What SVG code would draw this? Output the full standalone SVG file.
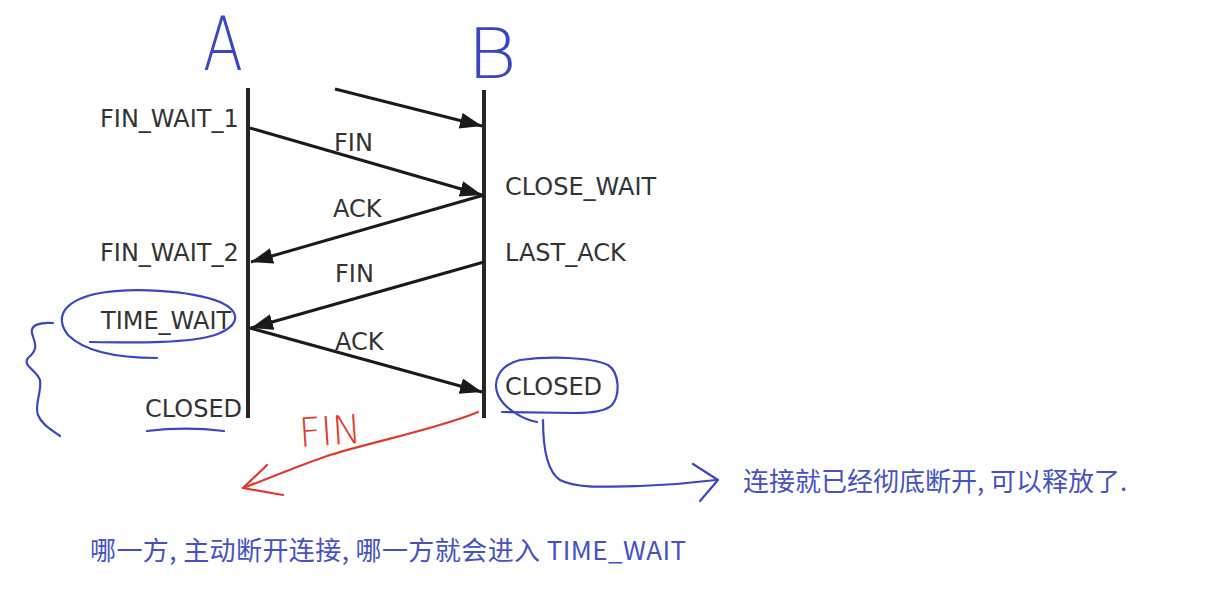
<svg xmlns="http://www.w3.org/2000/svg" width="1219" height="594" viewBox="0 0 1219 594">
<style>
.st{font-family:"DejaVu Sans","Liberation Sans",sans-serif;font-size:24px;fill:#333;}
.life{stroke:#262626;stroke-width:4;fill:none;}
.msg{stroke:#1a1a1a;stroke-width:3;fill:none;marker-end:url(#ah);}
.pen{stroke:#3946c6;stroke-width:2.2;fill:none;stroke-linecap:round;stroke-linejoin:round;}
.red{stroke:#e2392c;stroke-width:2.2;fill:none;stroke-linecap:round;stroke-linejoin:round;}
.hand{font-family:"DejaVu Sans","Liberation Sans",sans-serif;font-weight:200;}
.note{font-family:"Noto Sans CJK SC","Noto Sans",sans-serif;font-size:26px;fill:#4652c4;}
</style>
<defs>
<marker id="ah" markerUnits="userSpaceOnUse" markerWidth="24" markerHeight="18" refX="22" refY="8" orient="auto">
<path d="M0,0 L22,8 L0,16 z" fill="#1a1a1a"/>
</marker>
</defs>
<rect width="1219" height="594" fill="#fff"/>

<g id="A">
<text class="hand" x="203" y="70" font-size="75" fill="#3946c6" textLength="40" lengthAdjust="spacingAndGlyphs">A</text>
<line class="life" x1="248" y1="88" x2="248" y2="418"/>
<text class="st" x="100" y="127">FIN_WAIT_1</text>
<text class="st" x="100" y="261">FIN_WAIT_2</text>
<text class="st" x="101" y="329">TIME_WAIT</text>
<text class="st" x="145" y="417">CLOSED</text>
</g>

<g id="B">
<text class="hand" x="467" y="78" font-size="70" fill="#3946c6" textLength="50" lengthAdjust="spacingAndGlyphs">B</text>
<line class="life" x1="484" y1="90" x2="484" y2="418"/>
<text class="st" x="505" y="195">CLOSE_WAIT</text>
<text class="st" x="505" y="261">LAST_ACK</text>
<text class="st" x="505" y="395">CLOSED</text>
</g>

<g id="connectors">
<line class="msg" x1="335" y1="89" x2="482" y2="126"/>
<line class="msg" x1="250" y1="128" x2="482" y2="195"/>
<line class="msg" x1="484" y1="195" x2="251" y2="262"/>
<line class="msg" x1="484" y1="262" x2="251" y2="328"/>
<line class="msg" x1="250" y1="328" x2="482" y2="392"/>
<text class="st" x="334" y="151">FIN</text>
<text class="st" x="333" y="217">ACK</text>
<text class="st" x="335" y="282">FIN</text>
<text class="st" x="335" y="350">ACK</text>
</g>

<g id="annotations">
<path class="pen" d="M157,358 C120,358 85,352 68,335 C55,318 62,302 95,294 C130,287 190,290 220,302 C240,311 242,325 215,335 C190,343 140,343 90,342"/>
<path class="pen" d="M53,323 C40,322 30,325 32,333 C34,342 40,348 28,358 C22,365 36,370 40,380 C42,392 34,405 38,415 C42,425 52,430 60,436"/>
<path class="pen" d="M147,431 C170,428 200,428 224,431"/>
<path class="pen" d="M537,422 C525,420 505,410 498,395 C492,380 500,365 520,360 C550,356 590,357 608,365 C620,373 620,395 612,405 C605,412 590,413 575,413 L502,412"/>
<path class="pen" d="M543,420 C543,440 545,470 560,480 C575,488 600,487 640,486 C670,485 700,482 716,480"/>
<path class="pen" d="M693,464 L718,480 L700,501"/>
<path class="red" d="M478,412 C440,428 380,440 330,455 C300,465 270,478 243,488"/>
<path class="red" d="M267,465 L243,488 L283,495"/>
<text class="hand" x="300" y="447" font-size="40" fill="#e2392c" textLength="62" lengthAdjust="spacingAndGlyphs" transform="rotate(-4 300 447)">FIN</text>
<text class="note" x="743" y="491">连接就已经彻底断开, 可以释放了.</text>
<text class="note" x="90" y="560" textLength="596" lengthAdjust="spacing">哪一方, 主动断开连接, 哪一方就会进入 TIME_WAIT</text>
</g>
</svg>
